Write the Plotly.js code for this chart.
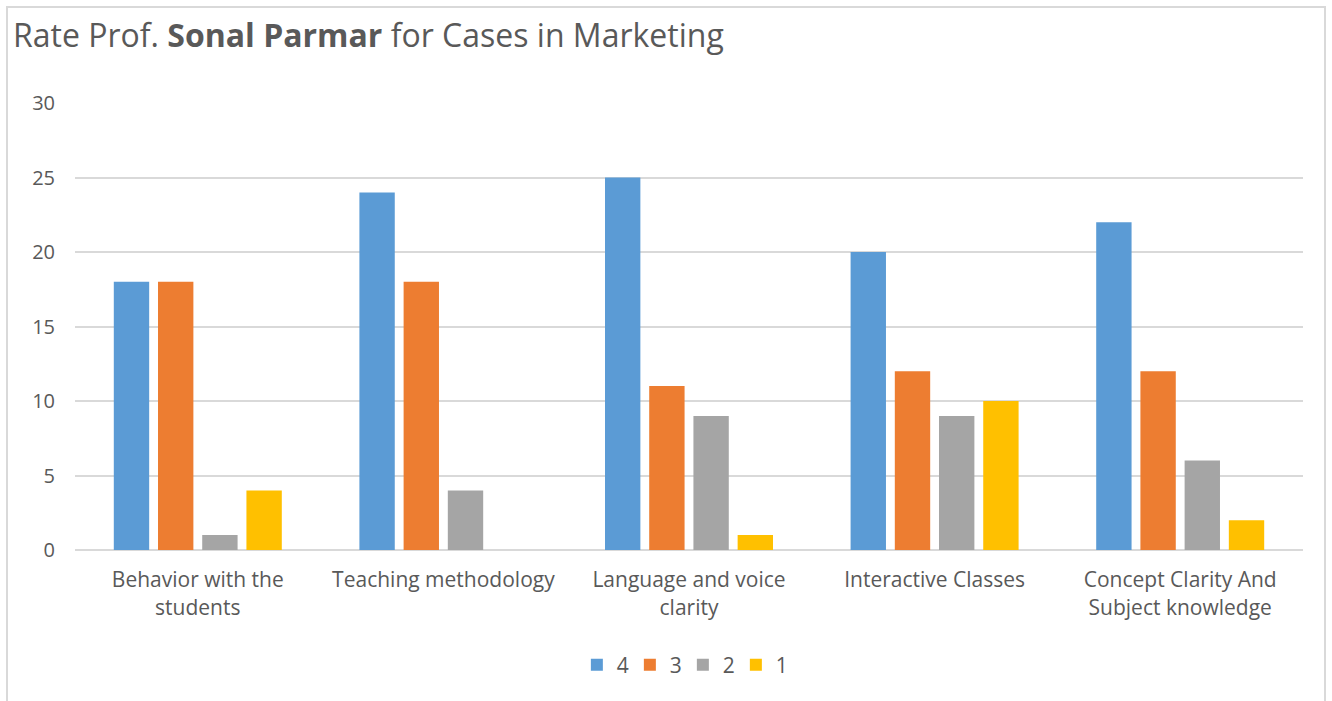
<!DOCTYPE html>
<html>
<head>
<meta charset="utf-8">
<script src="https://cdn.plot.ly/plotly-3.0.1.min.js"></script>
<style>
  html, body { margin: 0; padding: 0; background: #fff; }
  #wrap { position: relative; width: 1332px; height: 701px; }
  #chart { position: absolute; left: 0; top: 0; width: 1332px; height: 701px; }
  #frame { position: absolute; left: 6px; top: 6px; width: 1320px; height: 720px;
           border: 2px solid #d9d9d9; pointer-events: none; box-sizing: border-box; }
</style>
</head>
<body>
<div id="wrap">
  <div id="chart"></div>
  <div id="frame"></div>
</div>
<script>
const categories = [
  "Behavior with the<br>students",
  "Teaching methodology",
  "Language and voice<br>clarity",
  "Interactive Classes",
  "Concept Clarity And<br>Subject knowledge"
];
const seriesNames = ["4", "3", "2", "1"];
const rating4 = [18, 24, 25, 20, 22];
const rating3 = [18, 18, 11, 12, 12];
const rating2 = [1, 4, 9, 9, 6];
const rating1 = [4, 0, 1, 10, 2];
const colors = ["#5B9BD5", "#ED7D31", "#A5A5A5", "#FFC000"];
const seriesValues = [rating4, rating3, rating2, rating1];

const fontFam = "'Open Sans', 'Noto Sans', sans-serif";
const textColor = "#595959";

const traces = seriesValues.map((vals, i) => ({
  type: "bar",
  name: seriesNames[i],
  x: categories,
  y: vals,
  marker: { color: colors[i] },
  hoverinfo: "x+y+name"
}));

const layout = {
  width: 1332,
  height: 701,
  margin: { l: 75, r: 29, t: 103, b: 151 },
  paper_bgcolor: "#ffffff",
  plot_bgcolor: "#ffffff",
  font: { family: fontFam, color: textColor, size: 20 },
  title: {
    text: "Rate Prof. <b>Sonal Parmar</b> for Cases in Marketing",
    font: { family: fontFam, size: 32, color: textColor },
    x: 13 / 1332, xanchor: "left", xref: "container",
    y: 1 - 36 / 701, yanchor: "middle", yref: "container"
  },
  barmode: "group",
  bargap: 0.28,
  bargroupgap: 0.2,
  xaxis: {
    type: "category",
    tickfont: { family: fontFam, size: 21, color: textColor },
    ticks: "outside", ticklen: 11, tickcolor: "rgba(0,0,0,0)",
    showline: false, showgrid: false, zeroline: false
  },
  yaxis: {
    range: [0, 30],
    dtick: 5,
    tick0: 0,
    tickfont: { family: fontFam, size: 20, color: textColor },
    ticks: "outside", ticklen: 15, tickcolor: "rgba(0,0,0,0)",
    showgrid: true, gridcolor: "#d9d9d9", gridwidth: 1.5,
    zeroline: true, zerolinecolor: "#d9d9d9", zerolinewidth: 2,
    showline: false, fixedrange: true
  },
  legend: {
    orientation: "h",
    x: 0.495, xanchor: "center",
    y: -115 / 447, yanchor: "middle",
    font: { family: fontFam, size: 21, color: textColor },
    itemwidth: 30,
    entrywidth: 8,
    entrywidthmode: "pixels",
    traceorder: "normal"
  },
  showlegend: true
};

Plotly.newPlot("chart", traces, layout, { displayModeBar: false });
</script>
</body>
</html>
